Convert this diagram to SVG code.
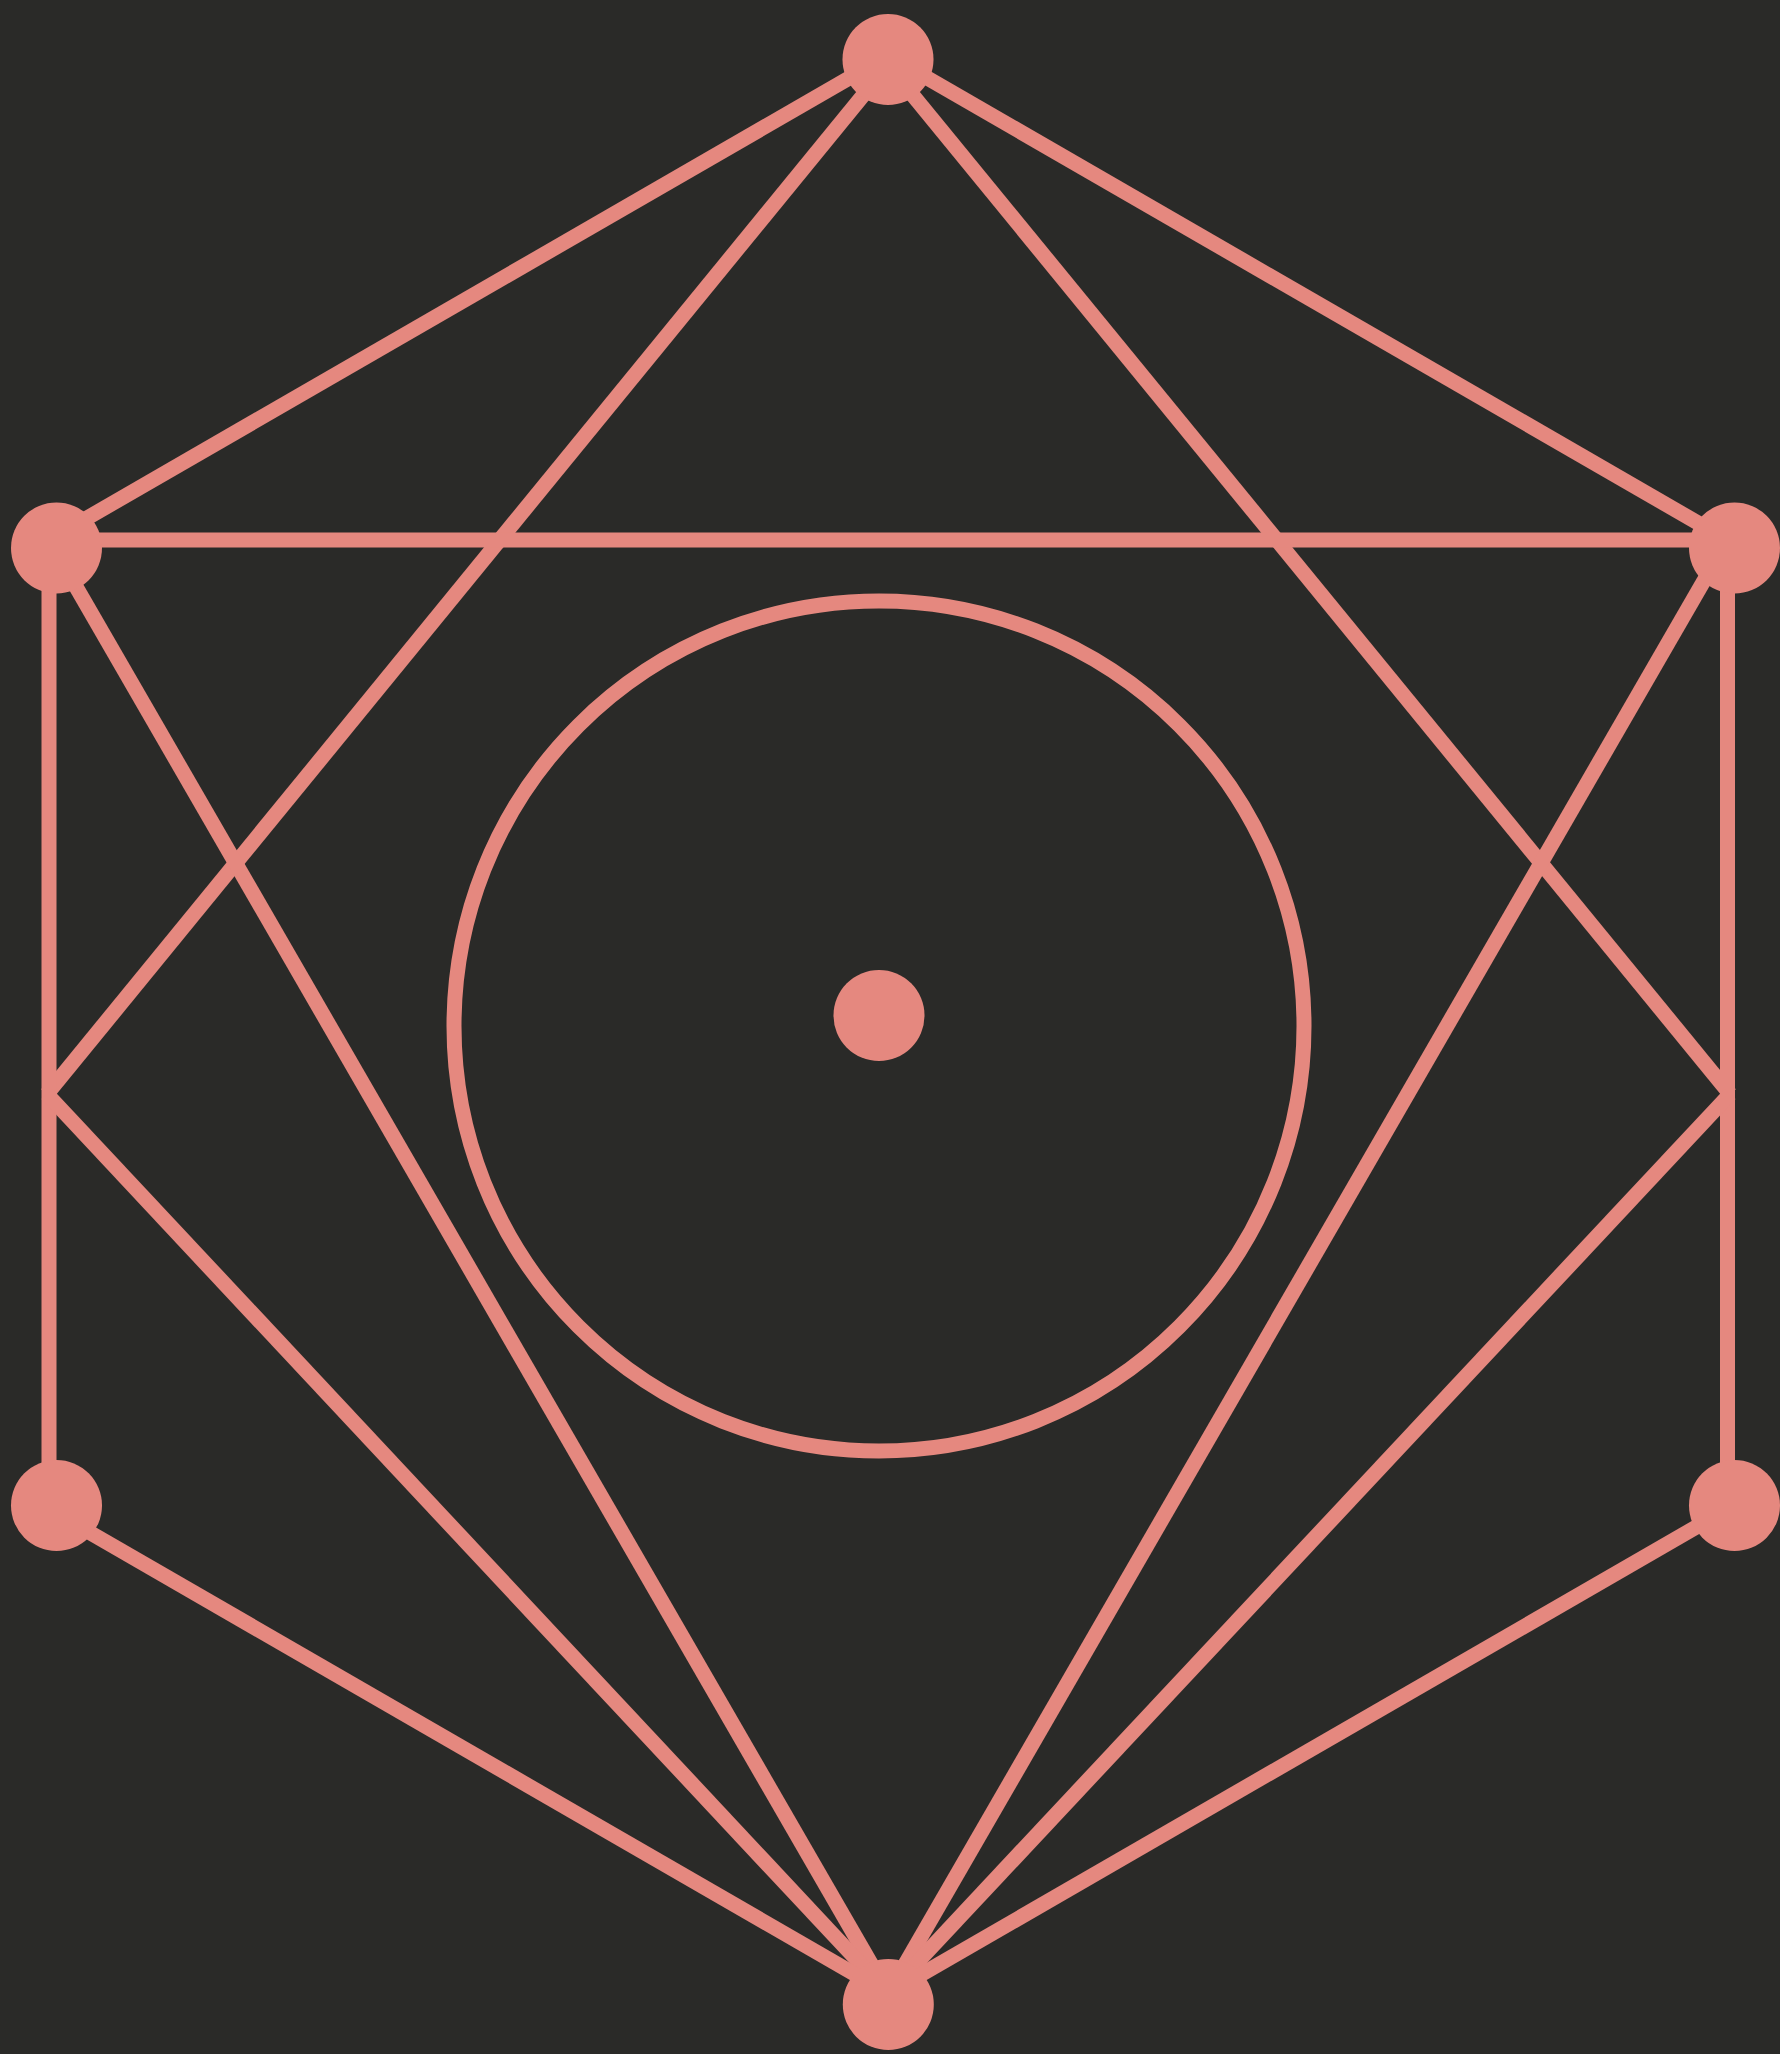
<svg xmlns="http://www.w3.org/2000/svg" width="1780" height="2054" viewBox="0 0 1780 2054">
  <style>
    .edge { stroke: #E5887F; stroke-width: 15; fill: none; stroke-linecap: butt; }
    .node { fill: #E5887F; }
    .ring { fill: none; stroke: #E5887F; stroke-width: 15; }
  </style>
  <rect width="1780" height="2054" fill="#2A2A28"/>
  <g id="connectors">
    <line class="edge" x1="888.25" y1="55.5" x2="49" y2="540"/>
    <line class="edge" x1="888.25" y1="55.5" x2="1727.5" y2="540"/>
    <line class="edge" x1="892" y1="60" x2="47" y2="1094"/>
    <line class="edge" x1="884" y1="60" x2="1730" y2="1094"/>
    <line class="edge" x1="49" y1="540" x2="1727.5" y2="540"/>
    <line class="edge" x1="49" y1="540" x2="49" y2="1509"/>
    <line class="edge" x1="1727.5" y1="540" x2="1727.5" y2="1509"/>
    <line class="edge" x1="49" y1="540" x2="888.25" y2="1993.5"/>
    <line class="edge" x1="1727.5" y1="540" x2="888.25" y2="1993.5"/>
    <line class="edge" x1="47" y1="1094" x2="888.25" y2="1993.5"/>
    <line class="edge" x1="1730" y1="1094" x2="888.25" y2="1993.5"/>
    <line class="edge" x1="49" y1="1509" x2="888.25" y2="1993.5"/>
    <line class="edge" x1="1727.5" y1="1509" x2="888.25" y2="1993.5"/>
  </g>
  <g id="ring">
    <circle class="ring" cx="879" cy="1026" r="425"/>
  </g>
  <g id="node-top"><circle class="node" cx="888" cy="59.5" r="45.5"/></g>
  <g id="node-upper-left"><circle class="node" cx="56.5" cy="548" r="45.5"/></g>
  <g id="node-upper-right"><circle class="node" cx="1734.5" cy="548" r="45.5"/></g>
  <g id="node-lower-left"><circle class="node" cx="56.5" cy="1505.5" r="45.5"/></g>
  <g id="node-lower-right"><circle class="node" cx="1734.5" cy="1505.5" r="45.5"/></g>
  <g id="node-bottom"><circle class="node" cx="888.3" cy="2004.5" r="45.5"/></g>
  <g id="node-center"><circle class="node" cx="879" cy="1015.5" r="45.5"/></g>
</svg>
